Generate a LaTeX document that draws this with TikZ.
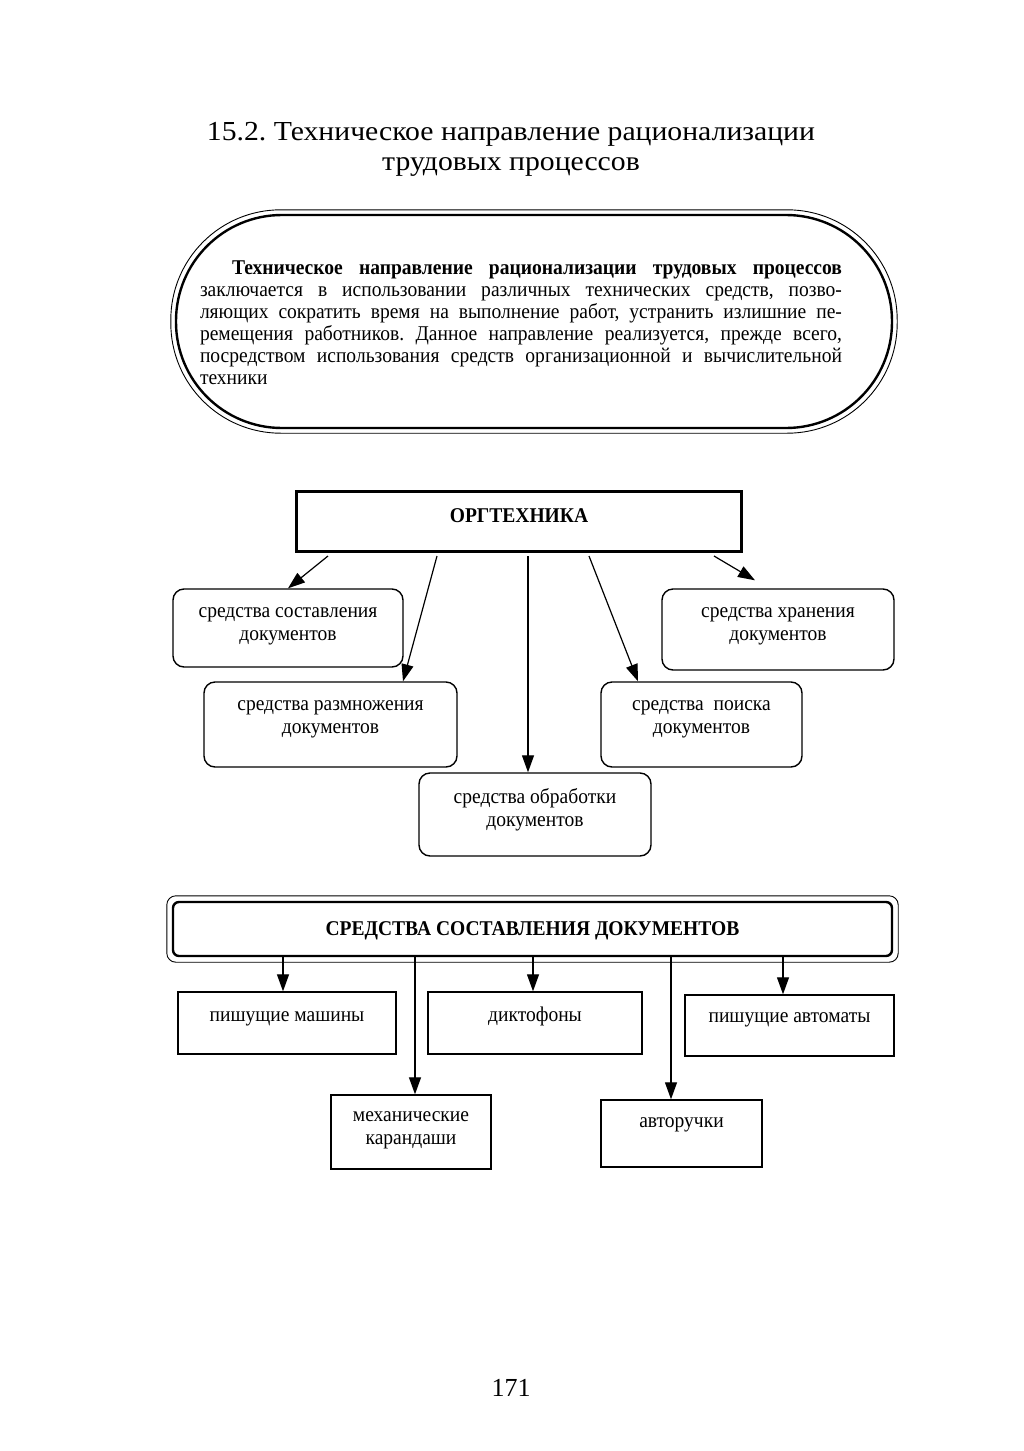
\documentclass[tikz,border=0pt]{standalone}
\usepackage{fontspec}
\setmainfont{Liberation Serif}
\newfontfamily\cond[FakeStretch=0.93]{Liberation Serif}
\newfontfamily\titlef[FakeStretch=1.08]{Liberation Serif}
\usetikzlibrary{arrows.meta,calc}
\frenchspacing
\tikzset{
  rbox/.style={draw, line width=1.4pt, rounded corners=11pt, inner sep=0pt},
  sbox/.style={draw, line width=1.4pt, inner sep=0pt},
  txt/.style={font=\cond\fontsize{21}{23}\selectfont, align=center, inner sep=0pt},
  btxt/.style={font=\cond\fontsize{21}{23}\selectfont\bfseries, align=center, inner sep=0pt},
  arr/.style={-{Triangle[length=17pt,width=12pt]}, line width=1.2pt},
}
\begin{document}
\begin{tikzpicture}[x=1pt,y=-1pt]
\useasboundingbox (0,0) rectangle (1024,1451);
\fill[white] (0,0) rectangle (1024,1451);

% title
\node[font=\titlef\fontsize{27.5}{30}\selectfont, align=center, inner sep=0pt] (title) at (511,149)
  {15.2. Техническое направление рационализации\\трудовых процессов};

% rounded definition block
\node[draw, line width=2.4pt, minimum width=716pt, minimum height=213pt, rounded corners=106pt, inner sep=0pt] (ell) at (534,321.5) {};
\draw[line width=0.9pt, rounded corners=110pt] ([shift={(-4pt,-4pt)}]ell.south west) rectangle ([shift={(4pt,4pt)}]ell.north east);
\node[font=\cond\fontsize{21}{22}\selectfont, text width=642pt, align=justify, inner sep=0pt] (def) at (521,323)
  {\frenchspacing\hspace*{32pt}\textbf{Техническое направление рационализации трудовых процессов}\linebreak
   заключается в использовании различных технических средств, позво-\linebreak
   ляющих сократить время на выполнение работ, устранить излишние пе-\linebreak
   ремещения работников. Данное направление реализуется, прежде всего,\linebreak
   посредством использования средств организационной и вычислительной\linebreak
   техники\par};

% ORGTEKHNIKA
\node[draw, line width=3pt, minimum width=445pt, minimum height=60pt, inner sep=0pt] (org) at (519,521.5) {};
\node[btxt, anchor=base] (orgt) at (519,522) {ОРГТЕХНИКА};

\node[rbox, minimum width=230pt, minimum height=78pt] (sost) at (288,628) {};
\node[txt] (sostt) at (288,626) {средства составления\\документов};
\node[rbox, minimum width=232pt, minimum height=81pt] (hran) at (778,629.5) {};
\node[txt] (hrant) at (778,626) {средства хранения\\документов};
\node[rbox, minimum width=253pt, minimum height=85pt] (razm) at (330.5,724.5) {};
\node[txt] (razmt) at (330.5,719) {средства размножения\\документов};
\node[rbox, minimum width=201pt, minimum height=85pt] (poisk) at (701.5,724.5) {};
\node[txt] (poiskt) at (701.5,719) {средства~~поиска\\документов};
\node[rbox, minimum width=232pt, minimum height=83pt] (obr) at (535,814.5) {};
\node[txt] (obrt) at (535,810) {средства обработки\\документов};

\draw[arr] ([xshift=-191pt,yshift=-3pt]org.south) -- (sost.north);
\draw[arr] ([xshift=-82pt,yshift=-3pt]org.south) -- ([xshift=72.5pt]razm.north);
\draw[arr] ([xshift=9pt,yshift=-3pt]org.south) -- ([xshift=-7pt]obr.north);
\draw[arr] ([xshift=70pt,yshift=-3pt]org.south) -- ([xshift=-63.5pt]poisk.north);
\draw[arr] ([xshift=195pt,yshift=-3pt]org.south) -- ([xshift=-23pt,yshift=8pt]hran.north);

% SREDSTVA SOSTAVLENIYA DOKUMENTOV
\node[draw, line width=2.4pt, minimum width=719pt, minimum height=54pt, rounded corners=6pt, inner sep=0pt] (sd) at (532.5,929) {};
\draw[line width=0.9pt, rounded corners=9pt] ([shift={(-5pt,-5pt)}]sd.south west) rectangle ([shift={(5pt,5pt)}]sd.north east);
\node[btxt, anchor=base] (sdt) at (532.5,935) {СРЕДСТВА СОСТАВЛЕНИЯ ДОКУМЕНТОВ};

\node[sbox, minimum width=218pt, minimum height=62pt] (pm) at (287,1023) {};
\node[txt, anchor=base] (pmt) at (287,1021) {пишущие машины};
\node[sbox, minimum width=214pt, minimum height=62pt] (dk) at (535,1023) {};
\node[txt, anchor=base] (dkt) at (535,1021) {диктофоны};
\node[sbox, minimum width=209pt, minimum height=61pt] (pa) at (789.5,1025.5) {};
\node[txt, anchor=base] (pat) at (789.5,1022) {пишущие автоматы};
\node[sbox, minimum width=160pt, minimum height=74pt] (mk) at (411,1132) {};
\node[txt] (mkt) at (411,1130) {механические\\карандаши};
\node[sbox, minimum width=161pt, minimum height=67pt] (ar) at (681.5,1133.5) {};
\node[txt, anchor=base] (art) at (681.5,1127) {авторучки};

\draw[arr] ([xshift=-249.5pt]sd.south) -- ([xshift=-4pt]pm.north);
\draw[arr] ([xshift=0.5pt]sd.south) -- ([xshift=-2pt]dk.north);
\draw[arr] ([xshift=250.5pt]sd.south) -- ([xshift=-6.5pt]pa.north);
\draw[arr] ([xshift=-117.5pt]sd.south) -- ([xshift=4pt]mk.north);
\draw[arr] ([xshift=138.5pt]sd.south) -- ([xshift=-10.5pt]ar.north);

% page number
\node[font=\fontsize{26}{28}\selectfont, inner sep=0pt] (pg) at (511,1388) {171};
\end{tikzpicture}
\end{document}
